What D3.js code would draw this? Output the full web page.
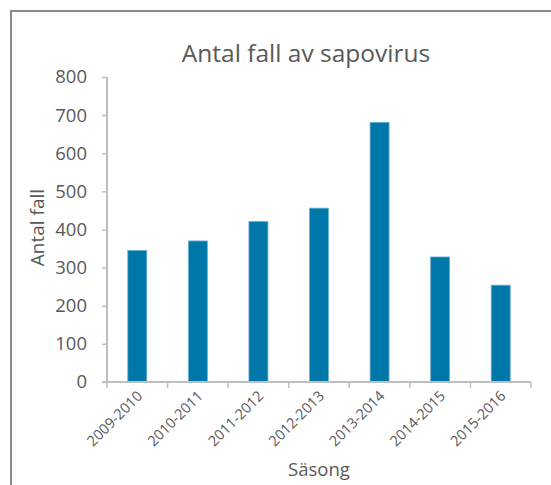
<!DOCTYPE html>
<html>
<head>
<meta charset="utf-8">
<script src="https://cdn.jsdelivr.net/npm/d3@7"></script>
<style>
  body { margin: 0; background: #fff; }
  text { font-family: "Open Sans", "Noto Sans", sans-serif; fill: #595959; }
</style>
</head>
<body>
<svg id="chart" width="551" height="485"></svg>
<script>
var seasons = ['2009-2010', '2010-2011', '2011-2012', '2012-2013', '2013-2014', '2014-2015', '2015-2016'];
var cases = [345, 370, 421, 456, 681, 328, 254];
var yTicks = [0, 100, 200, 300, 400, 500, 600, 700, 800];

var svg = d3.select('#chart');
var margin = {top: 77, left: 107, right: 20, bottom: 103};
var width = 531 - margin.left;
var height = 382 - margin.top;

// chart frame (only left and top visible)
svg.append('path')
    .attr('d', 'M11,485 L11,11 L551,11')
    .attr('fill', 'none')
    .attr('stroke', '#8c8c8c')
    .attr('stroke-width', 2);

var x = d3.scaleBand().domain(seasons).range([0, width]);
var y = d3.scaleLinear().domain([0, 800]).range([height, 0]);

var g = svg.append('g')
    .attr('transform', 'translate(' + margin.left + ',' + margin.top + ')');

g.selectAll('.bar')
    .data(cases)
    .enter().append('rect')
    .attr('class', 'bar')
    .attr('x', function(d, i) { return x(seasons[i]) + x.bandwidth() / 2 - 9.5; })
    .attr('width', 19)
    .attr('y', function(d) { return y(d); })
    .attr('height', function(d) { return height - y(d); })
    .attr('fill', '#0077a9')
    .attr('stroke', '#6fb0d2')
    .attr('stroke-width', 0.8);

// y axis
var yAxis = g.append('g')
    .call(d3.axisLeft(y).tickValues(yTicks).tickSize(5).tickPadding(15));
yAxis.select('.domain').attr('stroke', '#bfbfbf').attr('stroke-width', 2)
    .attr('d', 'M0,' + height + 'V0');
yAxis.selectAll('.tick line').attr('stroke', '#bfbfbf').attr('stroke-width', 1.5);
yAxis.selectAll('.tick text').style('font-size', '18.5px').attr('fill', '#595959');

// x axis with ticks at band boundaries
var xAxis = g.append('g')
    .attr('transform', 'translate(0,' + height + ')');
xAxis.append('line')
    .attr('x1', -5).attr('x2', width)
    .attr('stroke', '#bfbfbf').attr('stroke-width', 2);
var bounds = seasons.map(function(s) { return x(s); }).concat([width]);
xAxis.selectAll('.xtick')
    .data(bounds)
    .enter().append('line')
    .attr('class', 'xtick')
    .attr('x1', function(d) { return d; })
    .attr('x2', function(d) { return d; })
    .attr('y1', 0).attr('y2', 6)
    .attr('stroke', '#bfbfbf').attr('stroke-width', 1.5);
xAxis.selectAll('.xlabel')
    .data(seasons)
    .enter().append('text')
    .attr('class', 'xlabel')
    .attr('text-anchor', 'end')
    .attr('transform', function(d) {
        return 'translate(' + (x(d) + x.bandwidth() / 2 + 6) + ',15) rotate(-45)';
    })
    .style('font-size', '14.5px')
    .text(function(d) { return d; });

// titles
svg.append('text')
    .attr('x', 306).attr('y', 62)
    .attr('text-anchor', 'middle')
    .style('font-size', '24.5px')
    .text('Antal fall av sapovirus');

svg.append('text')
    .attr('transform', 'translate(44,' + (margin.top + height / 2 - 2) + ') rotate(-90)')
    .attr('text-anchor', 'middle')
    .style('font-size', '19px')
    .text('Antal fall');

svg.append('text')
    .attr('x', 319).attr('y', 476)
    .attr('text-anchor', 'middle')
    .style('font-size', '18.5px')
    .text('Säsong');
</script>
</body>
</html>
